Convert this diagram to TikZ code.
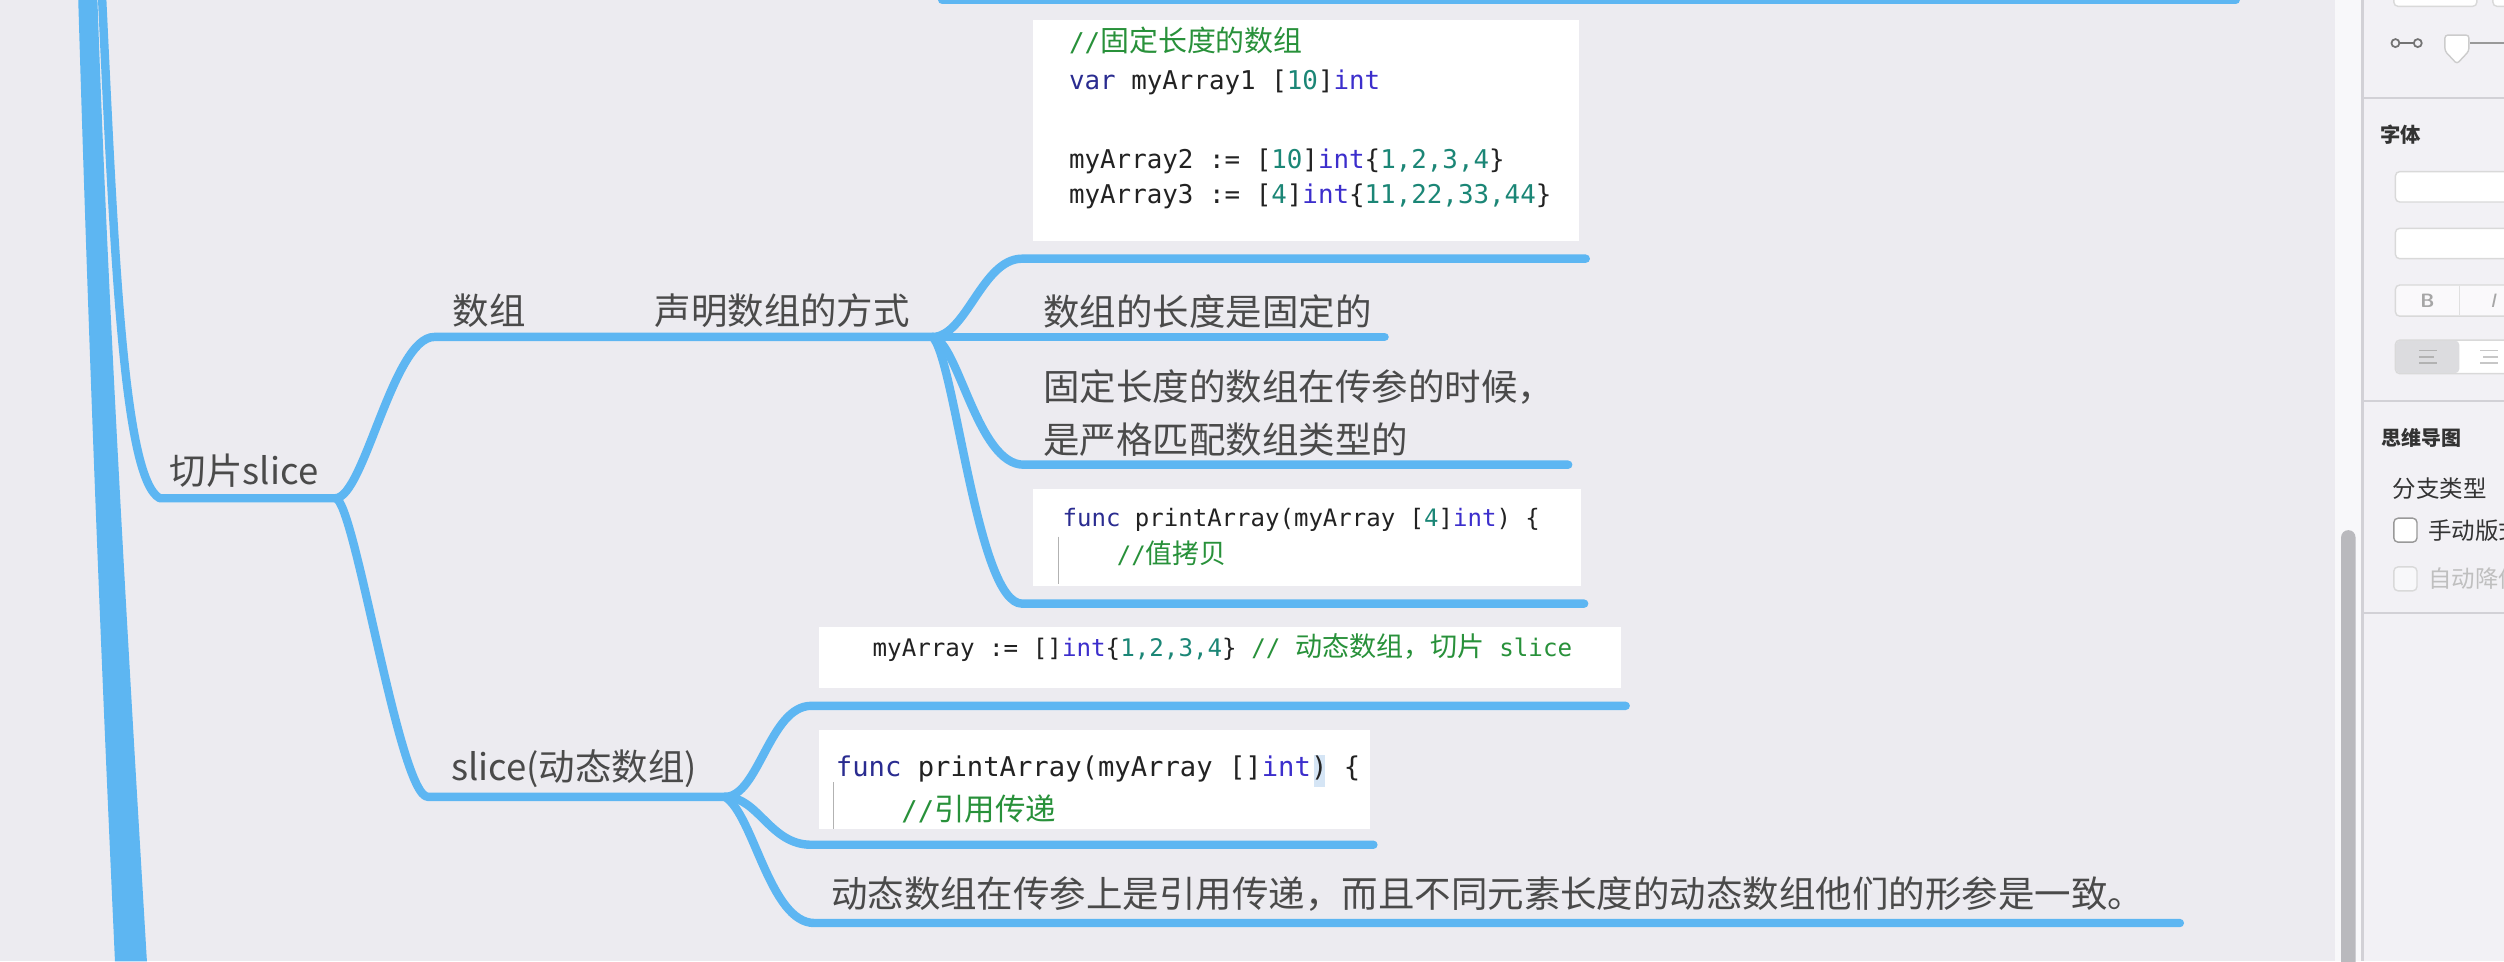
\documentclass[tikz,border=0pt]{standalone}
\usepackage{fontspec}
\newfontfamily\cjk{Noto Sans CJK SC}
\newfontfamily\cjkc{Noto Sans CJK SC}[Scale=1.12]
\newfontfamily\mono{DejaVu Sans Mono}
\definecolor{bgc}{HTML}{ECEBF0}
\definecolor{panelc}{HTML}{F2F1F5}
\definecolor{stripc}{HTML}{F8F8FA}
\definecolor{sepc}{HTML}{D2D1D6}
\definecolor{thumbc}{HTML}{B9B9BD}
\definecolor{mblue}{HTML}{5DB6F2}
\definecolor{tgray}{HTML}{4A4A4A}
\definecolor{ptext}{HTML}{333333}
\definecolor{ckw}{HTML}{2A2C90}
\definecolor{cty}{HTML}{3C2ECC}
\definecolor{cnum}{HTML}{1B8676}
\definecolor{ccom}{HTML}{28913A}
\definecolor{cdark}{HTML}{222222}
\definecolor{cursorc}{HTML}{D5E5F5}
\definecolor{segc}{HTML}{DCDCDF}
\begin{document}
\begin{tikzpicture}[x=0.016cm,y=-0.016cm,
  br/.style={line width=2.4pt, draw=mblue, line cap=round, line join=round},
  lbl/.style={anchor=west, inner sep=0, text=tgray, font=\cjk\fontsize{10.4}{15}\selectfont},
  codebox/.style={fill=white, draw=none, inner sep=0},
  code/.style={anchor=base west, inner sep=0, text=cdark},
  pbox/.style={fill=white, draw=black!15, line width=0.4pt, rounded corners=1.2pt},
  ptxt/.style={anchor=west, inner sep=0, text=ptext},
]
\useasboundingbox (0,0) rectangle (1568,602);
\fill[bgc] (0,0) rectangle (1568,602);

% ---------- right panel ----------
\fill[stripc] (1462,0) rectangle (1479,602);
\fill[panelc] (1479,0) rectangle (1568,602);
\draw[sepc, line width=0.8pt] (1479.5,0) -- (1479.5,602);
\fill[thumbc, rounded corners=2pt] (1466,332) rectangle (1475,612);
\begin{scope}
\clip (1480,0) rectangle (1568,602);
\draw[pbox] (1499,-10) rectangle (1551,4);
\draw[pbox] (1561,-10) rectangle (1590,4);
\draw[black!55, line width=0.5pt] (1500,27) circle[radius=0.04cm] (1514,27) circle[radius=0.04cm];
\draw[black!55, line width=0.5pt] (1502.5,27) -- (1511.5,27);
\draw[black!40, line width=0.7pt] (1547,27) -- (1575,27);
\filldraw[fill=white, draw=black!20, line width=0.4pt, rounded corners=0.8pt]
  (1531,22) -- (1546,22) -- (1546,32) -- (1538.5,40) -- (1531,32) -- cycle;
\draw[sepc, line width=0.6pt] (1480,61.5) -- (1568,61.5);
\node[ptxt, font=\cjk\bfseries\fontsize{5.8}{7}\selectfont] (pzt) at (1490,84.5) {字体};
\draw[pbox] (1500,107.5) rectangle (1590,126.5);
\draw[pbox] (1500,143) rectangle (1590,162);
\draw[pbox, fill=white!60!panelc] (1500,178.5) rectangle (1590,198);
\draw[black!12, line width=0.4pt] (1540,179) -- (1540,197.5);
\node[anchor=center, inner sep=0, text=black!35, font=\sffamily\bfseries\fontsize{5.5}{6}\selectfont] (pb) at (1520,188.5) {B};
\node[anchor=center, inner sep=0, text=black!35, font=\sffamily\itshape\fontsize{5.5}{6}\selectfont] (pi) at (1561,188.5) {I};
\draw[pbox] (1500,213) rectangle (1590,234);
\fill[segc, rounded corners=1.2pt] (1500.3,213.3) rectangle (1540,233.7);
\draw[black!30, line width=0.5pt] (1515,219.5) -- (1526,219.5) (1515,223.5) -- (1524,223.5) (1515,227.5) -- (1526,227.5);
\draw[black!22, line width=0.5pt] (1553,219.5) -- (1564,219.5) (1555,223.5) -- (1564,223.5) (1553,227.5) -- (1564,227.5);
\draw[sepc, line width=0.6pt] (1480,251) -- (1568,251);
\node[ptxt, font=\cjk\bfseries\fontsize{5.7}{7}\selectfont] (pmap) at (1491,274) {思维导图};
\node[ptxt, font=\cjk\fontsize{6.7}{8}\selectfont] (pfz) at (1498,306) {分支类型};
\draw[pbox, draw=black!40] (1499,324.5) rectangle (1513.5,339.5);
\node[ptxt, font=\cjk\fontsize{6.7}{8}\selectfont] (psd) at (1520,332) {手动版式};
\draw[pbox, draw=black!15, fill=white!50!panelc] (1499,355) rectangle (1513.5,370);
\node[ptxt, text=black!25, font=\cjk\fontsize{6.7}{8}\selectfont] (pzd) at (1520,362.5) {自动降低};
\draw[sepc, line width=0.6pt] (1480,384) -- (1568,384);
\end{scope}

% ---------- trunk ----------
\fill[mblue] (49,0) .. controls (55,200) and (62,384) .. (72,602) -- (92,602)
  .. controls (80,400) and (68,200) .. (61,0) -- cycle;

% ---------- code boxes ----------
\node[codebox, minimum width=5.472cm, minimum height=2.216cm] (box1) at (818,81.75) {};
\node[codebox, minimum width=5.488cm, minimum height=0.976cm] (box2) at (818.5,336.5) {};
\node[codebox, minimum width=8.032cm, minimum height=0.616cm] (box3) at (764,411.75) {};
\node[codebox, minimum width=5.52cm, minimum height=0.992cm] (box4) at (685.5,488) {};

% ---------- junction coordinates ----------
\coordinate (top) at (64,0);
\coordinate (prevA) at (590,0);
\coordinate (prevB) at (1400,0);
\coordinate (qpA) at (100,312);
\coordinate (qpB) at (210,312);
\coordinate (szA) at (272,211);
\coordinate (szB) at (400,211);
\coordinate (smB) at (584,211);
\coordinate (slA) at (268,499);
\coordinate (slB) at (454,499);
\coordinate (c1A) at (640,162);
\coordinate (c1B) at (993,162);
\coordinate (d1B) at (867,211);
\coordinate (d2A) at (641,291);
\coordinate (d2B) at (982,291);
\coordinate (c2A) at (640,378);
\coordinate (c2B) at (992,378);
\coordinate (c3A) at (508,442);
\coordinate (c3B) at (1018,442);
\coordinate (c4A) at (508,529);
\coordinate (c4B) at (860,529);
\coordinate (d3A) at (510,578);
\coordinate (d3B) at (1365,578);

% ---------- branches ----------
\draw[br] (prevA) -- (prevB);
\draw[br] (top) .. controls (72,170) and (78,300) .. (qpA) -- (qpB);
\draw[br] (qpB) .. controls (228,312) and (246,211) .. (szA) -- (szB) -- (smB);
\draw[br] (qpB) .. controls (222,312) and (250,499) .. (slA) -- (slB);
\draw[br] (smB) .. controls (605,211) and (615,162) .. (c1A) -- (c1B);
\draw[br] (smB) -- (d1B);
\draw[br] (smB) .. controls (600,214) and (612,291) .. (d2A) -- (d2B);
\draw[br] (smB) .. controls (598,225) and (612,378) .. (c2A) -- (c2B);
\draw[br] (slB) .. controls (475,499) and (482,442) .. (c3A) -- (c3B);
\draw[br] (slB) .. controls (475,499) and (482,529) .. (c4A) -- (c4B);
\draw[br] (slB) .. controls (472,510) and (482,578) .. (d3A) -- (d3B);

% ---------- labels ----------
\node[lbl] (qp) at (106,295) {切片slice};
\node[lbl] (sz) at (283,194.5) {数组};
\node[lbl] (sm) at (409.5,194.5) {声明数组的方式};
\node[lbl] (sl) at (282,481.5) {slice(动态数组)};
\node[lbl] (d1) at (653,195) {数组的长度是固定的};
\node[lbl, align=left] (d2) at (653,258.5) {固定长度的数组在传参的时候，\\是严格匹配数组类型的};
\node[lbl] (d3) at (520,560) {动态数组在传参上是引用传递，而且不同元素长度的动态数组他们的形参是一致。};

% ---------- code text ----------
\begin{scope}[every node/.style={code}]
\node[font=\mono\fontsize{7.37}{9}\selectfont] (b1a) at (669,32.3) {\textcolor{ccom}{//{\cjkc 固定长度的数组}}};
\node[font=\mono\fontsize{7.37}{9}\selectfont] (b1b) at (669,55.9) {\textcolor{ckw}{var} myArray1 [\textcolor{cnum}{10}]\textcolor{cty}{int}};
\node[font=\mono\fontsize{7.37}{9}\selectfont] (b1c) at (669,105.4) {myArray2 := [\textcolor{cnum}{10}]\textcolor{cty}{int}\{\textcolor{cnum}{1,2,3,4}\}};
\node[font=\mono\fontsize{7.37}{9}\selectfont] (b1d) at (669,127.3) {myArray3 := [\textcolor{cnum}{4}]\textcolor{cty}{int}\{\textcolor{cnum}{11,22,33,44}\}};

\node[font=\mono\fontsize{6.85}{9}\selectfont] (b2a) at (665,330) {\textcolor{ckw}{func} printArray(myArray [\textcolor{cnum}{4}]\textcolor{cty}{int}) \{};
\node[font=\mono\fontsize{6.85}{9}\selectfont] (b2b) at (699,352.7) {\textcolor{ccom}{//{\cjkc 值拷贝}}};

\node[font=\mono\fontsize{6.9}{9}\selectfont] (b3a) at (546,411) {myArray := []\textcolor{cty}{int}\{\textcolor{cnum}{1,2,3,4}\} \textcolor{ccom}{// {\cjkc 动态数组，切片} slice}};
\end{scope}
\draw[black!30, line width=0.4pt] (663,336) -- (663,366);
\fill[cursorc] (823,473) rectangle (830,493);
\draw[black!30, line width=0.4pt] (522,490) -- (522,519);
\begin{scope}[every node/.style={code}]
\node[font=\mono\fontsize{7.76}{9}\selectfont] (b4a) at (523,486.5) {\textcolor{ckw}{func} printArray(myArray []\textcolor{cty}{int}) \{};
\node[font=\mono\fontsize{7.76}{9}\selectfont] (b4b) at (564,513.5) {\textcolor{ccom}{//{\cjkc 引用传递}}};
\end{scope}
\end{tikzpicture}
\end{document}
